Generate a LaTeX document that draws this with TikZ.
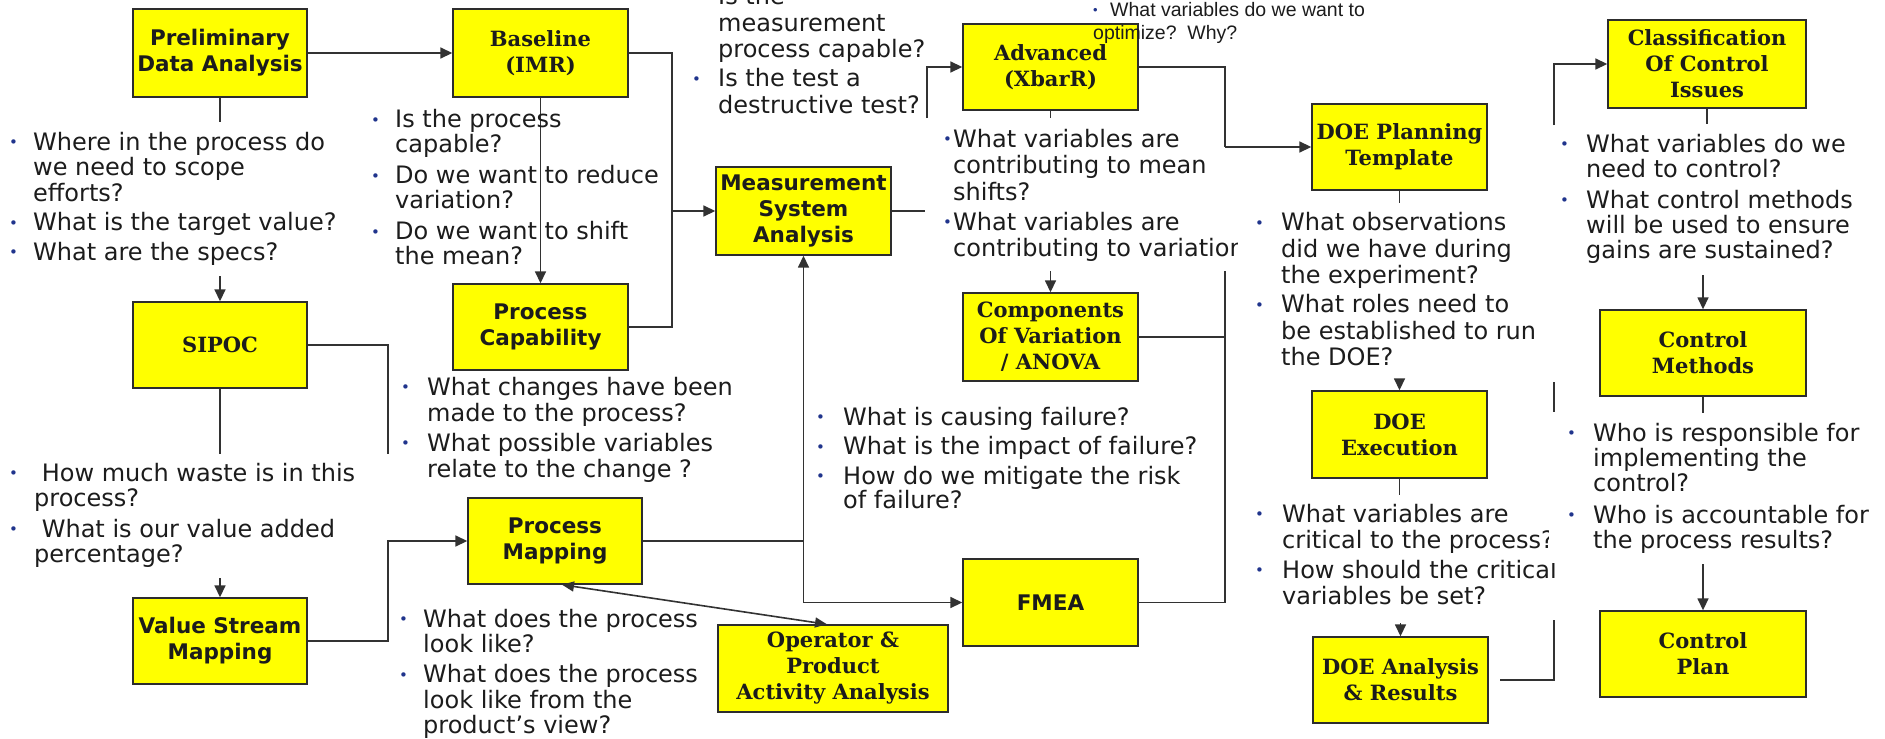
\documentclass[tikz,border=0pt]{standalone}
\usepackage{fontspec}
\setmainfont{DejaVu Sans}
\newfontfamily\labserif{DejaVu Serif}
\newfontfamily\notefont{Liberation Sans}
\usetikzlibrary{arrows.meta}

\definecolor{boxyellow}{RGB}{255,255,0}
\definecolor{boxline}{RGB}{45,45,45}
\definecolor{ink}{RGB}{28,28,28}
\definecolor{linegray}{RGB}{50,50,50}
\definecolor{bulletblue}{RGB}{32,52,140}

% bulleted question lists: #1 indent, #2 line spacing, #3 gap between items, #4 items
\newlength\qind
\newcommand\qbul{{\color{bulletblue}\fontsize{15}{15}\selectfont\raisebox{2.5pt}{•}}}
\newcommand\qi[1]{\par\hangindent=\qind\hangafter=1\noindent\makebox[\qind][l]{\qbul}#1}
\newcommand\qlist[4]{\vtop{\hsize=560pt\fontsize{24}{#2}\selectfont\parskip=#3\relax
  \parindent=0pt\rightskip=0pt plus 1fil\setlength\qind{#1}#4\par}}

\begin{document}
\begin{tikzpicture}[x=1pt,y=-1pt,
  bx/.style={draw=boxline,line width=1.4pt,fill=boxyellow,inner sep=0pt,align=center,text=ink},
  sanslab/.style={font=\fontsize{21.5}{26}\selectfont\bfseries},
  seriflab/.style={font=\labserif\fontsize{21}{26}\selectfont\bfseries},
  qnode/.style={anchor=base west,inner sep=0pt,text=ink},
  conn/.style={draw=linegray,line width=1.6pt},
  arr/.style={conn,-{Triangle[length=12pt,width=11pt]}},
  dblarr/.style={conn,{Triangle[length=12pt,width=10pt]}-{Triangle[length=12pt,width=10pt]}}]

\useasboundingbox (0,0) rectangle (1885,739);
\clip (0,0) rectangle (1885,739);
\fill[white] (0,0) rectangle (1885,739);

% ---------- process steps ----------
\node[bx,sanslab,minimum width=174pt,minimum height=88pt] (prelim) at (220,53) {Preliminary\\Data Analysis};
\node[bx,seriflab,minimum width=175pt,minimum height=88pt] (baseline) at (540.5,53) {Baseline\\(IMR)};
\node[bx,sanslab,minimum width=175pt,minimum height=86pt] (pcap) at (540.5,327) {Process\\Capability};
\node[bx,sanslab,minimum width=175pt,minimum height=88pt] (msa) at (803.5,211) {Measurement\\System\\Analysis};
\node[bx,seriflab,minimum width=174pt,minimum height=86pt] (sipoc) at (220,345) {SIPOC};
\node[bx,sanslab,minimum width=174pt,minimum height=86pt] (vsm) at (220,641) {Value Stream\\Mapping};
\node[bx,sanslab,minimum width=174pt,minimum height=86pt] (pm) at (555,541) {Process\\Mapping};
\node[bx,seriflab,minimum width=230pt,minimum height=87pt] (op) at (833,668.5) {Operator \&\\Product\\Activity Analysis};
\node[bx,sanslab,minimum width=175pt,minimum height=87pt] (fmea) at (1050.5,602.5) {FMEA};
\node[bx,seriflab,minimum width=175pt,minimum height=88pt] (cov) at (1050.5,337) {Components\\Of Variation\\/ ANOVA};
\node[bx,seriflab,minimum width=175pt,minimum height=86pt] (adv) at (1050.5,67) {Advanced\\(XbarR)};
\node[bx,seriflab,minimum width=175pt,minimum height=86pt] (doep) at (1399.5,147) {DOE Planning\\Template};
\node[bx,seriflab,minimum width=175pt,minimum height=87pt] (doex) at (1399.5,434.5) {DOE\\Execution};
\node[bx,seriflab,minimum width=175pt,minimum height=86pt] (doea) at (1400.5,680) {DOE Analysis\\\& Results};
\node[bx,seriflab,minimum width=198pt,minimum height=88pt] (cls) at (1707,64) {Classification\\Of Control\\Issues};
\node[bx,seriflab,minimum width=206pt,minimum height=86pt] (cm) at (1703,353) {Control\\Methods};
\node[bx,seriflab,minimum width=206pt,minimum height=86pt] (cp) at (1703,654) {Control\\Plan};

% ---------- connector ends and bends ----------
\coordinate (prelimstub) at (220,122);
\coordinate (sipocin) at (220,276);
\coordinate (sipocstub) at (220,454);
\coordinate (vsmin) at (220,578);
\coordinate (sipocend) at (388,454);
\coordinate (vsmknee) at (388,541);
\coordinate (msajoin) at (672,211);
\coordinate (msaout) at (925,211);
\coordinate (advlow) at (927,118);
\coordinate (pmbranch) at (803.5,541);
\coordinate (advstub) at (1050.5,118);
\coordinate (covin) at (1050.5,271);
\coordinate (doejoin) at (1225,147);
\coordinate (covtop) at (1225,271);
\coordinate (doepstub) at (1399.5,203);
\coordinate (doexin) at (1399.5,380);
\coordinate (doexstub) at (1399.5,495);
\coordinate (doeain) at (1400.5,623);
\coordinate (doeaout) at (1500,680);
\coordinate (rtlow) at (1554,620);
\coordinate (rtmida) at (1554,382);
\coordinate (rtmidb) at (1554,412);
\coordinate (rttop) at (1554,125);
\coordinate (clsstub) at (1707,124);
\coordinate (cmin) at (1703,275);
\coordinate (cmstub) at (1703,413);
\coordinate (cpin) at (1703,564);

% ---------- connectors ----------
\draw[arr] (prelim.east) -- (baseline.west);
\draw[conn] (prelim.south) -- (prelimstub);
\draw[arr] (sipocin) -- (sipoc.north);
\draw[conn] (sipoc.south) -- (sipocstub);
\draw[arr] (vsmin) -- (vsm.north);
\draw[conn] (sipoc.east) -| (sipocend);
\draw[arr] (vsm.east) -| (vsmknee) -- (pm.west);
\draw[arr] (baseline.south) -- (pcap.north);
\draw[conn] (baseline.east) -| (msajoin);
\draw[conn] (pcap.east) -| (msajoin);
\draw[arr] (msajoin) -- (msa.west);
\draw[conn] (msa.east) -- (msaout);
\draw[arr] (advlow) |- (adv.west);
\draw[arr] (pm.east) -| (msa.south);
\draw[arr] (pmbranch) |- (fmea.west);
\draw[dblarr] ([xshift=7pt]pm.south) -- ([xshift=-6pt]op.north);
\draw[conn] (adv.south) -- (advstub);
\draw[arr] (covin) -- (cov.north);
\draw[conn] (adv.east) -| (doejoin);
\draw[arr] (doejoin) -- (doep.west);
\draw[conn] (cov.east) -| (covtop);
\draw[conn] (fmea.east) -| (covtop);
\draw[conn] (doep.south) -- (doepstub);
\draw[arr] (doexin) -- (doex.north);
\draw[conn] (doex.south) -- (doexstub);
\draw[arr] (doeain) -- (doea.north);
\draw[conn] (doeaout) -| (rtlow);
\draw[conn] (rtmida) -- (rtmidb);
\draw[arr] (rttop) |- (cls.west);
\draw[conn] (cls.south) -- (clsstub);
\draw[arr] (cmin) -- (cm.north);
\draw[conn] (cm.south) -- (cmstub);
\draw[arr] (cpin) -- (cp.north);

% ---------- questions ----------
\node[qnode] (qprelim) at (9,150) {\qlist{24pt}{25.5pt}{4pt}{%
  \qi{Where in the process do\newline we need to scope\newline efforts?}%
  \qi{What is the target value?}%
  \qi{What are the specs?}}};

\node[qnode] (qbase) at (371,127.5) {\qlist{24pt}{25pt}{6pt}{%
  \qi{Is the process\newline capable?}%
  \qi{Do we want to reduce\newline variation?}%
  \qi{Do we want to shift\newline the mean?}}};

\node[qnode] (qmsa) at (692,4.5) {\qlist{26pt}{26.5pt}{2.5pt}{%
  \qi{Is the\newline measurement\newline process capable?}%
  \qi{Is the test a\newline destructive test?}}};

\begin{scope}
  \clip (900,100) rectangle (1237,290);
  \node[qnode] (qadv) at (943,147) {\qlist{10pt}{26.5pt}{3.5pt}{%
    \qi{What variables are\newline contributing to mean\newline shifts?}%
    \qi{What variables are\newline contributing to variation}}};
\end{scope}

\node[qnode] (qopt) at (1093,16) {\vtop{\hsize=320pt\notefont\fontsize{19.5}{23}\selectfont
  \parindent=0pt\rightskip=0pt plus 1fil
  \makebox[17pt][l]{{\color{bulletblue}\fontsize{13}{13}\selectfont\raisebox{2pt}{•}}}What variables do we want to\newline
  optimize?\ \ Why?\par}};

\node[qnode] (qdoep) at (1255,230.5) {\qlist{26pt}{26.5pt}{2.5pt}{%
  \qi{What observations\newline did we have during\newline the experiment?}%
  \qi{What roles need to\newline be established to run\newline the DOE?}}};

\node[qnode] (qcls) at (1560,152) {\qlist{26pt}{25pt}{6pt}{%
  \qi{What variables do we\newline need to control?}%
  \qi{What control methods\newline will be used to ensure\newline gains are sustained?}}};

\node[qnode] (qcm) at (1567,441) {\qlist{26pt}{25pt}{7pt}{%
  \qi{Who is responsible for\newline implementing the\newline control?}%
  \qi{Who is accountable for\newline the process results?}}};

\node[qnode] (qpcap) at (401,395) {\qlist{26pt}{26pt}{4pt}{%
  \qi{What changes have been\newline made to the process?}%
  \qi{What possible variables\newline relate to the change ?}}};

\node[qnode] (qsipoc) at (9,481) {\qlist{25pt}{25pt}{6pt}{%
  \qi{\ How much waste is in this\newline process?}%
  \qi{\ What is our value added\newline percentage?}}};

\node[qnode] (qpm) at (399,627) {\qlist{24pt}{25.5pt}{4.5pt}{%
  \qi{What does the process\newline look like?}%
  \qi{What does the process\newline look like from the\newline product’s view?}}};

\node[qnode] (qfmea) at (816,425) {\qlist{27pt}{24.5pt}{5pt}{%
  \qi{What is causing failure?}%
  \qi{What is the impact of failure?}%
  \qi{How do we mitigate the risk\newline of failure?}}};

\begin{scope}
  \clip (1240,490) rectangle (1548,563) (1240,563) rectangle (1600,625);
  \node[qnode] (qdoex) at (1255,522) {\qlist{27pt}{26pt}{4pt}{%
    \qi{What variables are\newline critical to the process?}%
    \qi{How should the critical\newline variables be set?}}};
\end{scope}

\end{tikzpicture}
\end{document}
